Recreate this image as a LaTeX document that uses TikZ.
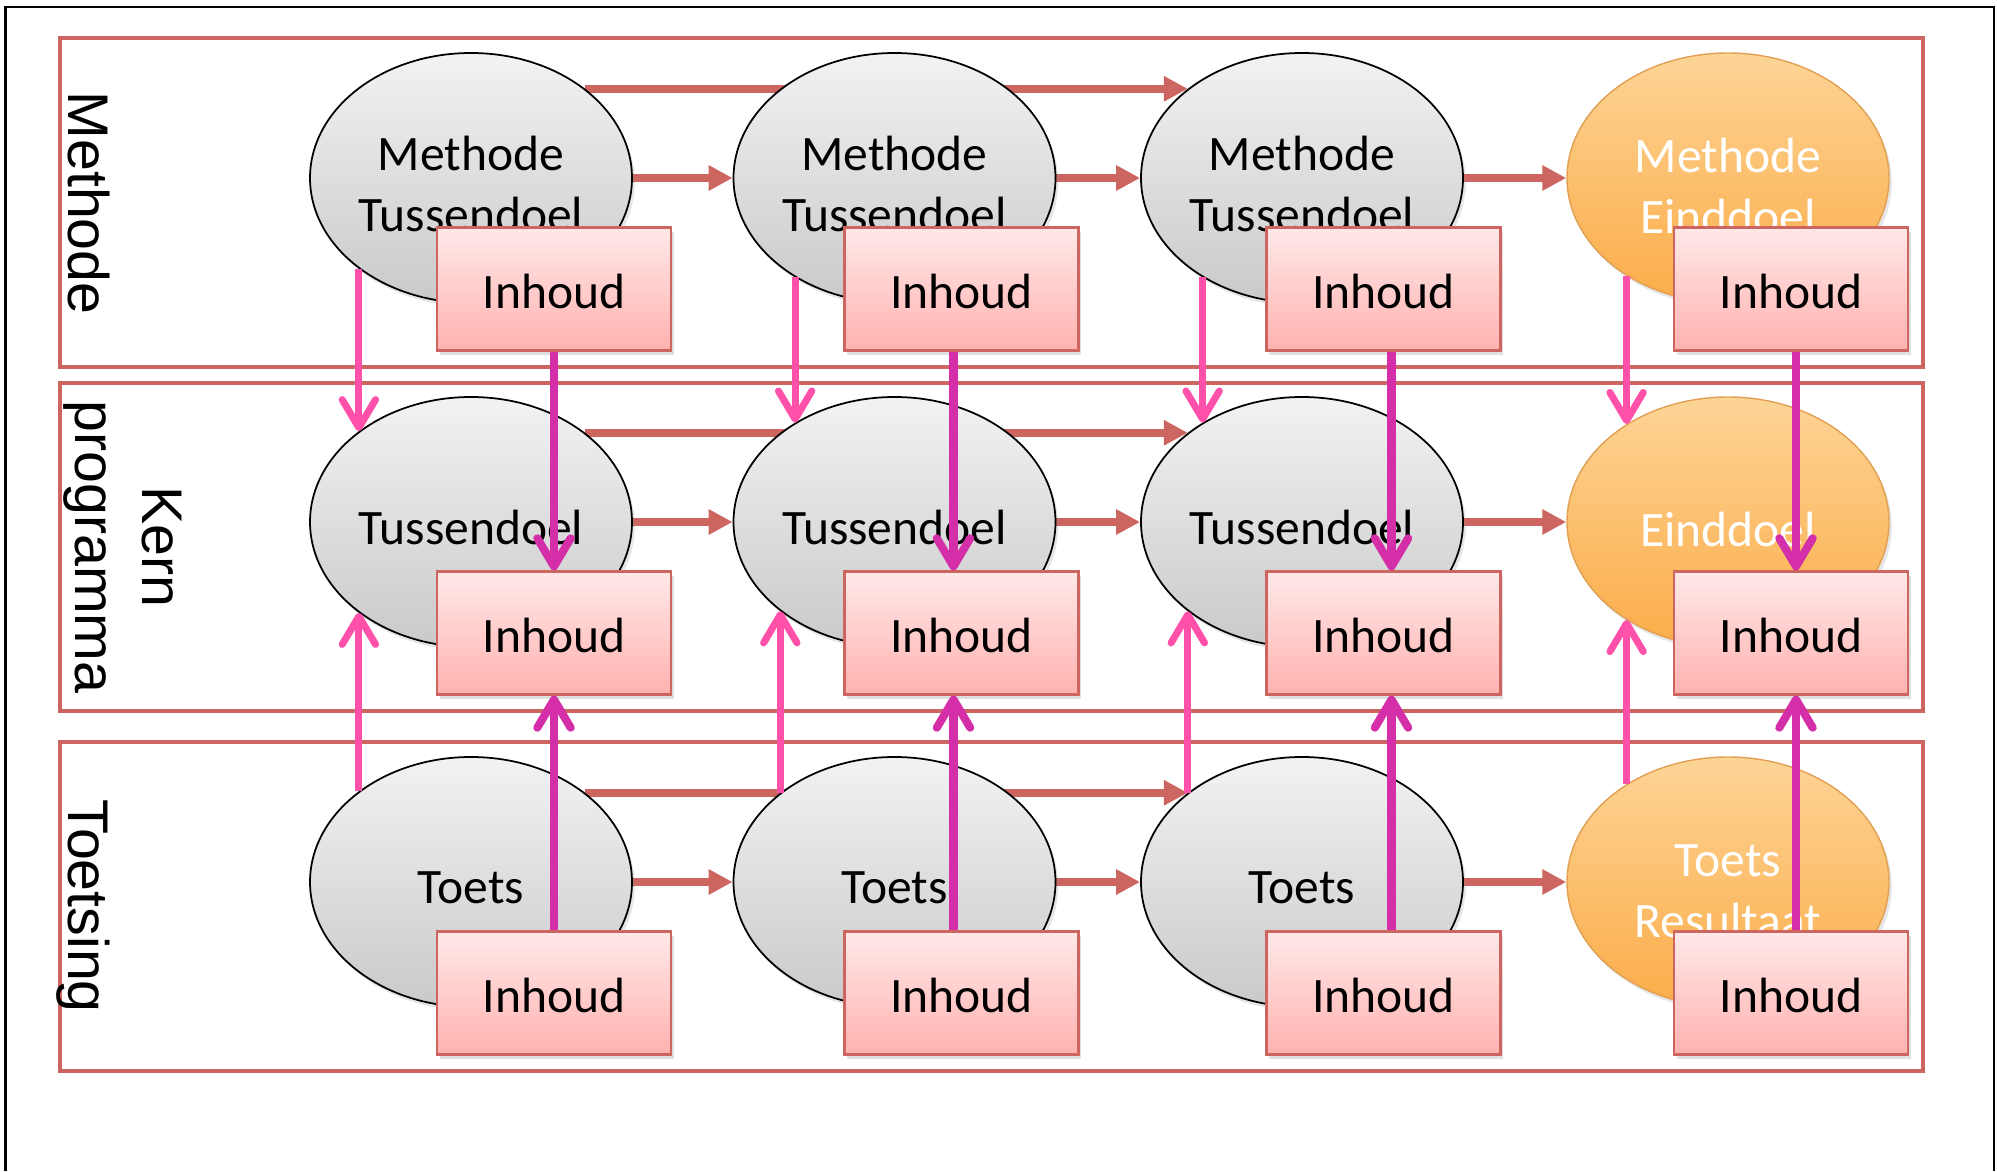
\documentclass[tikz,border=0pt]{standalone}
\usepackage{fontspec}
\setmainfont{Carlito}
\newfontfamily\bandfont{Liberation Sans}
\usetikzlibrary{positioning,shapes.geometric,arrows.meta,shadows,backgrounds}

\definecolor{bandred}{RGB}{205,102,96}
\definecolor{arrowpink}{RGB}{255,80,170}
\definecolor{arrowmagenta}{RGB}{212,46,168}
\definecolor{boxtop}{RGB}{255,232,232}
\definecolor{boxbottom}{RGB}{255,178,176}
\definecolor{goaltop}{RGB}{253,212,150}
\definecolor{goalbottom}{RGB}{251,172,72}
\definecolor{goalline}{RGB}{226,160,84}

% invisible strut that pushes the ellipse text a little down
\newcommand{\lift}[1][13pt]{\rule{0pt}{#1}}

\begin{document}
\begin{tikzpicture}[
    stage/.style={ellipse, draw=black, line width=0.5pt, top color=gray!10, bottom color=gray!42,
        minimum width=3.22cm, minimum height=2.5cm, inner sep=0pt, align=center,
        font=\fontsize{14.1}{17.4}\selectfont,
        drop shadow={opacity=0.2, shadow xshift=0.8pt, shadow yshift=-1.2pt}},
    goal/.style={stage, draw=goalline, line width=0.4pt, top color=goaltop, bottom color=goalbottom, text=white},
    content/.style={rectangle, draw=bandred, line width=0.6pt, top color=boxtop, bottom color=boxbottom,
        minimum width=2.34cm, minimum height=1.23cm, inner sep=0pt, text height=11.2pt, text depth=0pt,
        font=\fontsize{14.1}{17.4}\selectfont,
        drop shadow={opacity=0.25, shadow xshift=0.8pt, shadow yshift=-1.2pt}},
    band/.style={draw=bandred, line width=1.2pt},
    bandlabel/.style={rotate=-90, align=center, font=\bandfont\fontsize{16.3}{19}\selectfont},
    flowarrow/.style={draw=bandred, line width=2.3pt, -{Triangle[length=6.8pt,width=6.8pt]}},
    pinkarrow/.style={draw=arrowpink, line width=2pt, -{Straight Barb[length=8pt,width=9.5pt,round]}},
    magentaarrow/.style={pinkarrow, draw=arrowmagenta, line width=2.3pt}
]
    \useasboundingbox (0,0) rectangle (19.97,11.71);

    % Frame (cut off at the bottom)
    \draw[line width=0.6pt] (0.055,0) -- (0.055,11.64) -- (19.94,11.64) -- (19.94,0);

    % Bands
    \draw[band] (0.60,8.04) rectangle (19.23,11.33);
    \draw[band] (0.60,4.60) rectangle (19.23,7.88);
    \draw[band] (0.60,1.00) rectangle (19.23,4.29);
    \node[bandlabel, anchor=base] (lm) at (0.69, 9.68) {Methode};
    \node[bandlabel] (lk) at (1.23, 6.24) {Kern\\programma};
    \node[bandlabel, anchor=base] (lt) at (0.68, 2.65) {Toetsing};

    % Goals per band
    \foreach \c/\x in {1/4.71, 2/8.945, 3/13.02} {
        \node[stage] (m\c) at (\x, 9.93) {\lift Methode\\Tussendoel};
        \node[stage] (k\c) at (\x, 6.49) {\lift Tussendoel};
        \node[stage] (t\c) at (\x, 2.89) {\lift[12.4pt]Toets};
    }
    \node[goal] (m4) at (17.28, 9.93) {\lift[14.2pt]Methode\\Einddoel};
    \node[goal] (k4) at (17.28, 6.49) {\lift[14.2pt]Einddoel};
    \node[goal] (t4) at (17.28, 2.89) {\lift[14.2pt]Toets\\Resultaat};

    % Content boxes
    \foreach \c/\x in {1/5.54, 2/9.615, 3/13.835, 4/17.91} {
        \node[content] (im\c) at (\x, 8.82) {Inhoud};
        \node[content] (ik\c) at (\x, 5.38) {Inhoud};
        \node[content] (it\c) at (\x, 1.78) {Inhoud};
    }

    % Flow through each band (behind the goals)
    \begin{scope}[on background layer]
        \foreach \r in {m,k,t} {
            \draw[flowarrow] (\r1.east) -- (\r2.west);
            \draw[flowarrow] (\r2.east) -- (\r3.west);
            \draw[flowarrow] (\r3.east) -- (\r4.west);
            \draw[flowarrow] (\r1.38) -- (\r3.142);
        }
    \end{scope}

    % Methode and Toetsing into Kernprogramma
    \foreach \c/\d/\u [evaluate=\d as \dd using int(360-\d), evaluate=\u as \uu using int(360-\u)]
            in {1/141/141, 2/135/142, 3/135/142, 4/136/136} {
        \draw[pinkarrow] (m\c.\dd) -- (k\c.\d);
        \draw[pinkarrow] (t\c.\u) -- (k\c.\uu);
    }

    % Content into content
    \foreach \c/\s in {1/0, 2/-0.08, 3/0.08, 4/0.05} {
        \draw[magentaarrow] ([xshift=\s cm]im\c.south) -- ([xshift=\s cm]ik\c.north);
        \draw[magentaarrow] ([xshift=\s cm]it\c.north) -- ([xshift=\s cm]ik\c.south);
    }
\end{tikzpicture}
\end{document}
